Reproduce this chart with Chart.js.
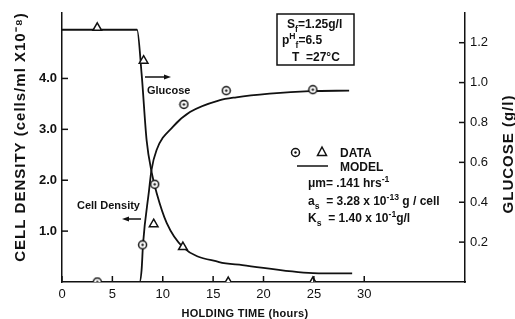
<!DOCTYPE html>
<html>
<head>
<meta charset="utf-8">
<script src="https://cdn.jsdelivr.net/npm/chart.js@4"></script>
<style>
  body { margin: 0; background: #fff; }
  canvas { display: block; }
</style>
</head>
<body>
<canvas id="holdingChart" width="515" height="319"></canvas>
<script>
// data
const cellDataHours = [3.5, 8.0, 9.2, 12.1, 16.3, 24.9];
const cellDataValues = [0, 0.73, 1.92, 3.49, 3.76, 3.78];
const glucoseDataHours = [3.5, 8.1, 9.1, 12.0, 16.5, 24.9];
const glucoseDataValues = [1.275, 1.11, 0.29, 0.175, 0, 0];

const cellModelHours = [0, 7.7, 7.9, 8.05, 8.64, 8.88, 9.38, 11.0, 12.7, 15.6, 17.3, 20.6, 24.6, 28.5];
const cellModelValues = [0, 0, 0.235, 0.765, 1.80, 2.2, 2.59, 3.05, 3.34, 3.57, 3.63, 3.70, 3.75, 3.76];
const glucoseModelHours = [0, 7.45, 7.9, 8.4, 8.9, 9.4, 10.4, 12.0, 15.6, 17.9, 24.9, 28.8];
const glucoseModelValues = [1.265, 1.265, 1.045, 0.71, 0.55, 0.445, 0.295, 0.175, 0.10, 0.085, 0.045, 0.043];

const xTicks = [0, 5, 10, 15, 20, 25, 30];
const leftTicks = ['1.0', '2.0', '3.0', '4.0'];
const rightTicks = ['0.2', '0.4', '0.6', '0.8', '1.0', '1.2'];

const FONT = '"Liberation Sans", Arial, sans-serif';

const HoldingChart = {
    init() {
        this.createChart();
    },

    pts(xs, ys) {
        return xs.map((x, i) => ({ x: x, y: ys[i] }));
    },

    // open circle with a dot in the middle
    dotCircle() {
        const c = document.createElement('canvas');
        c.width = 11; c.height = 11;
        const g = c.getContext('2d');
        g.fillStyle = '#fff';
        g.strokeStyle = '#111';
        g.lineWidth = 1.5;
        g.beginPath(); g.arc(5.5, 5.5, 4, 0, Math.PI * 2); g.fill(); g.stroke();
        g.fillStyle = '#111';
        g.beginPath(); g.arc(5.5, 5.5, 1.2, 0, Math.PI * 2); g.fill();
        return c;
    },

    rich(ctx, x, y, parts, size) {
        let cx = x;
        parts.forEach(([t, k]) => {
            let s = size, dy = 0;
            if (k === 'sub') { s = size * 0.72; dy = size * 0.3; }
            if (k === 'sup') { s = size * 0.72; dy = -size * 0.42; }
            ctx.font = 'bold ' + s + 'px ' + FONT;
            ctx.fillText(t, cx, y + dy);
            cx += ctx.measureText(t).width;
        });
    },

    arrow(ctx, x1, y, x2) {
        const d = x2 > x1 ? 1 : -1;
        ctx.beginPath(); ctx.moveTo(x1, y); ctx.lineTo(x2 - d * 5, y); ctx.stroke();
        ctx.beginPath();
        ctx.moveTo(x2, y); ctx.lineTo(x2 - d * 7, y - 2.5); ctx.lineTo(x2 - d * 7, y + 2.5);
        ctx.closePath(); ctx.fill();
    },

    createChart() {
        const ctx = document.getElementById('holdingChart').getContext('2d');

        if (typeof Chart === 'undefined') {
            console.error('Chart.js is not loaded');
            return;
        }

        const circleImg = this.dotCircle();
        const self = this;

        const inwardTicks = {
            id: 'inwardTicks',
            afterDatasetsDraw(chart) {
                const c = chart.ctx;
                const a = chart.chartArea;
                c.save();
                c.strokeStyle = '#111';
                c.lineWidth = 1.5;
                chart.scales.x.ticks.forEach(t => {
                    const px = chart.scales.x.getPixelForValue(t.value);
                    c.beginPath(); c.moveTo(px, a.bottom); c.lineTo(px, a.bottom - 6); c.stroke();
                });
                chart.scales.y.ticks.forEach(t => {
                    const py = chart.scales.y.getPixelForValue(t.value);
                    c.beginPath(); c.moveTo(a.left, py); c.lineTo(a.left + 6, py); c.stroke();
                });
                chart.scales.y1.ticks.forEach(t => {
                    const py = chart.scales.y1.getPixelForValue(t.value);
                    c.beginPath(); c.moveTo(a.right, py); c.lineTo(a.right - 6, py); c.stroke();
                });
                c.restore();
            }
        };

        const annotations = {
            id: 'annotations',
            afterDraw(chart) {
                const c = chart.ctx;
                c.save();
                c.fillStyle = '#111';
                c.strokeStyle = '#111';
                c.textBaseline = 'alphabetic';

                // axis titles
                c.textAlign = 'center';
                c.font = 'bold 15px ' + FONT;
                c.letterSpacing = '1px';
                c.save();
                c.translate(25, 137);
                c.rotate(-Math.PI / 2);
                c.fillText('CELL DENSITY (cells/ml X10\u207B\u2078)', 0, 0);
                c.restore();
                c.save();
                c.translate(513, 154);
                c.rotate(-Math.PI / 2);
                c.fillText('GLUCOSE (g/l)', 0, 0);
                c.restore();
                c.font = 'bold 11px ' + FONT;
                c.letterSpacing = '0.3px';
                c.fillText('HOLDING TIME (hours)', 245, 317);
                c.letterSpacing = '0px';
                c.textAlign = 'left';

                // conditions box
                c.lineWidth = 1.5;
                c.strokeRect(277, 14, 77, 51);
                self.rich(c, 287, 28, [['S', ''], ['f', 'sub'], ['=1.25g/l', '']], 12);
                self.rich(c, 282, 44, [['p', ''], ['H', 'sup'], ['f', 'sub'], ['=6.5', '']], 12);
                self.rich(c, 292, 61, [['T  =27\u00B0C', '']], 12);

                // legend
                c.drawImage(circleImg, 290, 147);
                c.fillStyle = '#fff';
                c.beginPath(); c.moveTo(322, 147); c.lineTo(326.5, 155.5); c.lineTo(317.5, 155.5); c.closePath();
                c.fill(); c.stroke();
                c.fillStyle = '#111';
                c.beginPath(); c.moveTo(297, 166); c.lineTo(328, 166); c.stroke();
                self.rich(c, 340, 157, [['DATA', '']], 12);
                self.rich(c, 340, 171, [['MODEL', '']], 12);
                self.rich(c, 308, 187, [['\u03BCm', ''], ['= .141 hrs', ''], ['-1', 'sup']], 12);
                self.rich(c, 308, 205, [['a', ''], ['s', 'sub'], ['  = 3.28 x 10', ''], ['-13', 'sup'], [' g / cell', '']], 12);
                self.rich(c, 308, 222, [['K', ''], ['s', 'sub'], ['  = 1.40 x 10', ''], ['-1', 'sup'], ['g/l', '']], 12);

                // curve labels with arrows
                self.rich(c, 147, 94, [['Glucose', '']], 11);
                self.rich(c, 77, 209, [['Cell Density', '']], 11);
                c.lineWidth = 1.5;
                self.arrow(c, 145, 77, 171);
                self.arrow(c, 141, 219, 122);
                c.restore();
            }
        };

        new Chart(ctx, {
            type: 'scatter',
            data: {
                datasets: [{
                    label: 'Cell density data',
                    data: this.pts(cellDataHours, cellDataValues),
                    yAxisID: 'y',
                    pointStyle: circleImg,
                    order: 0
                }, {
                    label: 'Glucose data',
                    data: this.pts(glucoseDataHours, glucoseDataValues),
                    yAxisID: 'y1',
                    pointStyle: 'triangle',
                    pointRadius: 5,
                    pointBackgroundColor: '#fff',
                    pointBorderColor: '#111',
                    pointBorderWidth: 1.5,
                    order: 0
                }, {
                    label: 'Cell density model',
                    data: this.pts(cellModelHours, cellModelValues),
                    yAxisID: 'y',
                    showLine: true,
                    borderColor: '#111',
                    borderWidth: 1.8,
                    pointRadius: 0,
                    cubicInterpolationMode: 'monotone',
                    order: 1
                }, {
                    label: 'Glucose model',
                    data: this.pts(glucoseModelHours, glucoseModelValues),
                    yAxisID: 'y1',
                    showLine: true,
                    borderColor: '#111',
                    borderWidth: 1.8,
                    pointRadius: 0,
                    cubicInterpolationMode: 'monotone',
                    order: 1
                }]
            },
            options: {
                responsive: false,
                animation: false,
                devicePixelRatio: 1,
                layout: { padding: { top: 12, left: 0, right: 0, bottom: 0 } },
                plugins: {
                    legend: { display: false },
                    tooltip: { enabled: false }
                },
                scales: {
                    x: {
                        type: 'linear',
                        min: 0,
                        max: 40,
                        afterBuildTicks: s => { s.ticks = xTicks.map(v => ({ value: v })); },
                        afterFit: s => { s.height = 37; },
                        grid: { display: false, drawTicks: false },
                        border: { color: '#111', width: 1.5 },
                        ticks: {
                            color: '#111',
                            padding: 5,
                            maxRotation: 0,
                            autoSkip: false,
                            font: { family: FONT, size: 13 }
                        }
                    },
                    y: {
                        position: 'left',
                        min: 0,
                        max: 5.29,
                        afterBuildTicks: s => { s.ticks = leftTicks.map(v => ({ value: parseFloat(v) })); },
                        afterFit: s => { s.width = 62; },
                        grid: { display: false, drawTicks: false },
                        border: { color: '#111', width: 1.5 },
                        ticks: {
                            color: '#111',
                            padding: 5,
                            autoSkip: false,
                            callback: (v) => leftTicks.find(l => parseFloat(l) === v) || '',
                            font: { family: FONT, size: 13, weight: 'bold' }
                        }
                    },
                    y1: {
                        position: 'right',
                        min: 0,
                        max: 1.35,
                        afterBuildTicks: s => { s.ticks = rightTicks.map(v => ({ value: parseFloat(v) })); },
                        afterFit: s => { s.width = 50; },
                        grid: { display: false, drawTicks: false },
                        border: { color: '#111', width: 1.5 },
                        ticks: {
                            color: '#111',
                            padding: 5,
                            autoSkip: false,
                            callback: (v) => rightTicks.find(l => parseFloat(l) === v) || '',
                            font: { family: FONT, size: 13 }
                        }
                    }
                }
            },
            plugins: [inwardTicks, annotations]
        });
    }
};

HoldingChart.init();
</script>
</body>
</html>
